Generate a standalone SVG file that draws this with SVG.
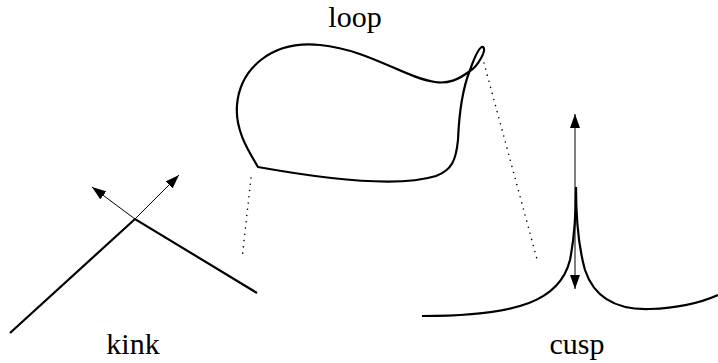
<svg xmlns="http://www.w3.org/2000/svg" width="718" height="363" viewBox="0 0 718 363">
<style>
.curve{fill:none;stroke:#000;stroke-width:2.2;stroke-linejoin:miter;stroke-linecap:butt}
.thin{fill:none;stroke:#000;stroke-width:1}
.dot{fill:none;stroke:#000;stroke-width:1.6;stroke-linecap:round;stroke-dasharray:0 6.3}
.lbl{font-family:"Liberation Serif","DejaVu Serif",serif;font-size:30px;fill:#000;text-anchor:middle}
</style>
<defs>
<marker id="ah" viewBox="0 0 14 10" refX="14" refY="5" markerWidth="14" markerHeight="10" markerUnits="userSpaceOnUse" orient="auto">
<path d="M0,0 L14,5 L0,10 Z" fill="#000"/>
</marker>
</defs>
<rect width="718" height="363" fill="#fff"/>
<g id="kink">
<path class="curve" d="M10,333 L135,219 L257,293"/>
<line class="thin" x1="135" y1="219" x2="179" y2="175" marker-end="url(#ah)"/>
<line class="thin" x1="135" y1="219" x2="92" y2="187" marker-end="url(#ah)"/>
<text class="lbl" x="133" y="354">kink</text>
</g>
<g id="loop">
<path class="curve" d="M258,167 C330,180 400,187 436,176 C452,170 456,160 458,140 C459,115 462,90 470,70 C475,56 480,46 483,47 C487,50 478,66 470,71 C458,80 448,84 435,82 C405,78 370,50 320,45 C270,40 240,70 237,105 C235,130 248,150 258,167 Z"/>
<text class="lbl" x="355" y="27">loop</text>
</g>
<g id="cusp">
<path class="curve" d="M422,316 C520,316 560,300 570,260 C575,235 576,210 576,187 C576,215 578,245 585,270 C595,300 620,310 650,309 C680,308 700,303 718,295"/>
<line class="thin" x1="575" y1="190" x2="575" y2="114" marker-end="url(#ah)"/>
<line class="thin" x1="575" y1="190" x2="575" y2="289" marker-end="url(#ah)"/>
<text class="lbl" x="577" y="354">cusp</text>
</g>
<g id="connectors">
<line class="dot" x1="251" y1="178" x2="242" y2="259"/>
<line class="dot" x1="484" y1="63" x2="538" y2="263"/>
</g>
</svg>
